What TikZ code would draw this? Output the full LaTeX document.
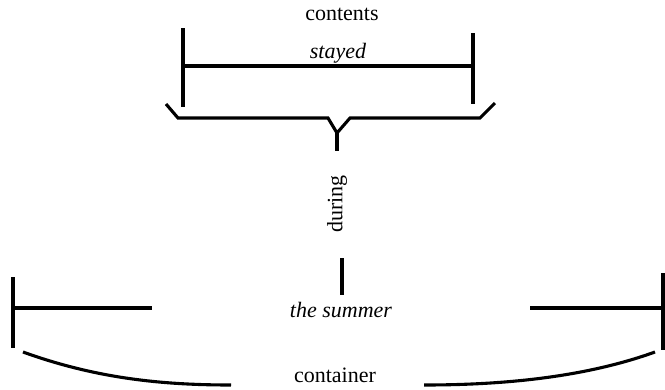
\documentclass[tikz,border=0pt]{standalone}
\usepackage{fontspec}
\setmainfont{Liberation Serif}
\begin{document}
\begin{tikzpicture}[x=1pt,y=-1pt,
  ln/.style={line width=3.1pt},
  lbl/.style={font=\fontsize{22}{24}\selectfont, inner sep=0pt}]
\useasboundingbox (0,0) rectangle (665,389);
% texts
\node[lbl, anchor=base] (contents) at (342,20) {contents};
\node[lbl, anchor=base] (stayed) at (338,58) {\itshape stayed};
\node[lbl, rotate=90] (during) at (337,204) {during};
\node[lbl, anchor=base] (summer) at (341,317) {\itshape the summer};
\node[lbl, anchor=base] (container) at (335,382) {container};
% contents bracket
\coordinate (cl) at (183,66);
\coordinate (cr) at (473,66);
\draw[ln] (183,28) -- (183,107);
\draw[ln] (473,33) -- (473,104);
\draw[ln] (cl) -- (cr);
% brace
\coordinate (tip) at (337,133);
\coordinate (stem) at (337,151);
\draw[ln, line join=miter] (166,104) -- (178,118) -- (328,118) -- (tip) -- (350,118) -- (480,118) -- (495,103);
\draw[ln] (tip) -- (stem);
% bar above the summer
\coordinate (bt) at (342,258);
\coordinate (bb) at (342,295);
\draw[ln] (bt) -- (bb);
% container bracket
\draw[ln] (13,277) -- (13,348);
\draw[ln] (13,308) -- (152,308);
\draw[ln] (663,273) -- (663,350);
\draw[ln] (530,308) -- (663,308);
% arcs
\draw[ln] (23,352) .. controls (95,378) and (160,385) .. (231,385);
\draw[ln] (655,352) .. controls (583,378) and (500,385) .. (424,385);
\end{tikzpicture}
\end{document}
